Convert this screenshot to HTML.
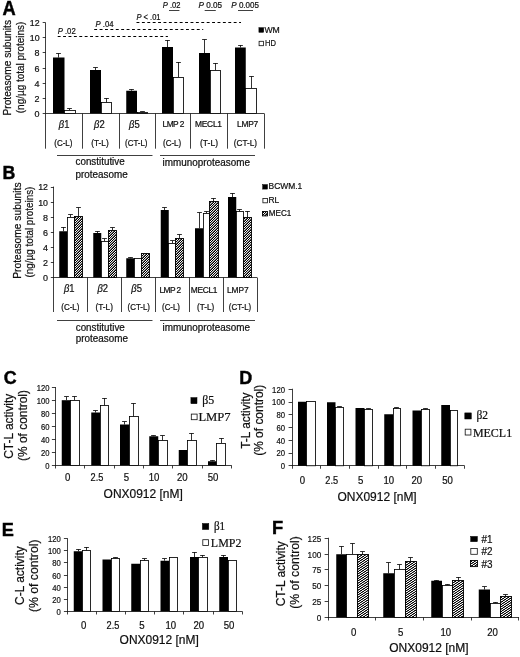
<!DOCTYPE html>
<html><head><meta charset="utf-8"><title>Figure</title>
<style>
html,body{margin:0;padding:0;background:#fff;}
body{width:520px;height:657px;overflow:hidden;font-family:"Liberation Sans",sans-serif;}
svg{display:block;}
text{stroke:#111;stroke-width:0.22px;}
</style></head>
<body>
<svg width="520" height="657" viewBox="0 0 520 657">
<defs>
<pattern id="hatchB" width="5" height="5" patternUnits="userSpaceOnUse"><rect x="0" y="0" width="1.02" height="1.02" fill="rgb(0,0,0)"/><rect x="1" y="0" width="1.02" height="1.02" fill="rgb(255,255,255)"/><rect x="2" y="0" width="1.02" height="1.02" fill="rgb(0,0,0)"/><rect x="3" y="0" width="1.02" height="1.02" fill="rgb(215,215,215)"/><rect x="4" y="0" width="1.02" height="1.02" fill="rgb(96,96,96)"/><rect x="0" y="1" width="1.02" height="1.02" fill="rgb(255,255,255)"/><rect x="1" y="1" width="1.02" height="1.02" fill="rgb(0,0,0)"/><rect x="2" y="1" width="1.02" height="1.02" fill="rgb(215,215,215)"/><rect x="3" y="1" width="1.02" height="1.02" fill="rgb(96,96,96)"/><rect x="4" y="1" width="1.02" height="1.02" fill="rgb(0,0,0)"/><rect x="0" y="2" width="1.02" height="1.02" fill="rgb(0,0,0)"/><rect x="1" y="2" width="1.02" height="1.02" fill="rgb(215,215,215)"/><rect x="2" y="2" width="1.02" height="1.02" fill="rgb(96,96,96)"/><rect x="3" y="2" width="1.02" height="1.02" fill="rgb(0,0,0)"/><rect x="4" y="2" width="1.02" height="1.02" fill="rgb(255,255,255)"/><rect x="0" y="3" width="1.02" height="1.02" fill="rgb(215,215,215)"/><rect x="1" y="3" width="1.02" height="1.02" fill="rgb(96,96,96)"/><rect x="2" y="3" width="1.02" height="1.02" fill="rgb(0,0,0)"/><rect x="3" y="3" width="1.02" height="1.02" fill="rgb(255,255,255)"/><rect x="4" y="3" width="1.02" height="1.02" fill="rgb(0,0,0)"/><rect x="0" y="4" width="1.02" height="1.02" fill="rgb(96,96,96)"/><rect x="1" y="4" width="1.02" height="1.02" fill="rgb(0,0,0)"/><rect x="2" y="4" width="1.02" height="1.02" fill="rgb(255,255,255)"/><rect x="3" y="4" width="1.02" height="1.02" fill="rgb(0,0,0)"/><rect x="4" y="4" width="1.02" height="1.02" fill="rgb(215,215,215)"/></pattern><pattern id="hatchF" width="7" height="7" patternUnits="userSpaceOnUse"><rect x="0" y="0" width="1.02" height="1.02" fill="rgb(0,0,0)"/><rect x="1" y="0" width="1.02" height="1.02" fill="rgb(255,255,255)"/><rect x="2" y="0" width="1.02" height="1.02" fill="rgb(211,211,211)"/><rect x="3" y="0" width="1.02" height="1.02" fill="rgb(0,0,0)"/><rect x="4" y="0" width="1.02" height="1.02" fill="rgb(105,105,105)"/><rect x="5" y="0" width="1.02" height="1.02" fill="rgb(255,255,255)"/><rect x="6" y="0" width="1.02" height="1.02" fill="rgb(44,44,44)"/><rect x="0" y="1" width="1.02" height="1.02" fill="rgb(255,255,255)"/><rect x="1" y="1" width="1.02" height="1.02" fill="rgb(44,44,44)"/><rect x="2" y="1" width="1.02" height="1.02" fill="rgb(0,0,0)"/><rect x="3" y="1" width="1.02" height="1.02" fill="rgb(255,255,255)"/><rect x="4" y="1" width="1.02" height="1.02" fill="rgb(211,211,211)"/><rect x="5" y="1" width="1.02" height="1.02" fill="rgb(0,0,0)"/><rect x="6" y="1" width="1.02" height="1.02" fill="rgb(105,105,105)"/><rect x="0" y="2" width="1.02" height="1.02" fill="rgb(0,0,0)"/><rect x="1" y="2" width="1.02" height="1.02" fill="rgb(105,105,105)"/><rect x="2" y="2" width="1.02" height="1.02" fill="rgb(255,255,255)"/><rect x="3" y="2" width="1.02" height="1.02" fill="rgb(44,44,44)"/><rect x="4" y="2" width="1.02" height="1.02" fill="rgb(0,0,0)"/><rect x="5" y="2" width="1.02" height="1.02" fill="rgb(255,255,255)"/><rect x="6" y="2" width="1.02" height="1.02" fill="rgb(211,211,211)"/><rect x="0" y="3" width="1.02" height="1.02" fill="rgb(255,255,255)"/><rect x="1" y="3" width="1.02" height="1.02" fill="rgb(211,211,211)"/><rect x="2" y="3" width="1.02" height="1.02" fill="rgb(0,0,0)"/><rect x="3" y="3" width="1.02" height="1.02" fill="rgb(105,105,105)"/><rect x="4" y="3" width="1.02" height="1.02" fill="rgb(255,255,255)"/><rect x="5" y="3" width="1.02" height="1.02" fill="rgb(44,44,44)"/><rect x="6" y="3" width="1.02" height="1.02" fill="rgb(0,0,0)"/><rect x="0" y="4" width="1.02" height="1.02" fill="rgb(44,44,44)"/><rect x="1" y="4" width="1.02" height="1.02" fill="rgb(0,0,0)"/><rect x="2" y="4" width="1.02" height="1.02" fill="rgb(255,255,255)"/><rect x="3" y="4" width="1.02" height="1.02" fill="rgb(211,211,211)"/><rect x="4" y="4" width="1.02" height="1.02" fill="rgb(0,0,0)"/><rect x="5" y="4" width="1.02" height="1.02" fill="rgb(105,105,105)"/><rect x="6" y="4" width="1.02" height="1.02" fill="rgb(255,255,255)"/><rect x="0" y="5" width="1.02" height="1.02" fill="rgb(105,105,105)"/><rect x="1" y="5" width="1.02" height="1.02" fill="rgb(255,255,255)"/><rect x="2" y="5" width="1.02" height="1.02" fill="rgb(44,44,44)"/><rect x="3" y="5" width="1.02" height="1.02" fill="rgb(0,0,0)"/><rect x="4" y="5" width="1.02" height="1.02" fill="rgb(255,255,255)"/><rect x="5" y="5" width="1.02" height="1.02" fill="rgb(211,211,211)"/><rect x="6" y="5" width="1.02" height="1.02" fill="rgb(0,0,0)"/><rect x="0" y="6" width="1.02" height="1.02" fill="rgb(211,211,211)"/><rect x="1" y="6" width="1.02" height="1.02" fill="rgb(0,0,0)"/><rect x="2" y="6" width="1.02" height="1.02" fill="rgb(105,105,105)"/><rect x="3" y="6" width="1.02" height="1.02" fill="rgb(255,255,255)"/><rect x="4" y="6" width="1.02" height="1.02" fill="rgb(44,44,44)"/><rect x="5" y="6" width="1.02" height="1.02" fill="rgb(0,0,0)"/><rect x="6" y="6" width="1.02" height="1.02" fill="rgb(255,255,255)"/></pattern>
<filter id="soft" x="0" y="0" width="520" height="657" filterUnits="userSpaceOnUse"><feGaussianBlur stdDeviation="0.3"/></filter>
</defs>
<rect width="520" height="657" fill="#fff"/>
<g filter="url(#soft)">
<line x1="45.50" y1="22.60" x2="45.50" y2="148.70" stroke="#111" stroke-width="0.8" />
<line x1="42.70" y1="113.50" x2="45.60" y2="113.50" stroke="#111" stroke-width="0.8" />
<text x="34.60" y="116.90" font-family="Liberation Sans" font-size="9.2" text-anchor="start" font-weight="normal" font-style="normal" fill="#111" textLength="5.00" lengthAdjust="spacingAndGlyphs">0</text>
<line x1="42.70" y1="98.50" x2="45.60" y2="98.50" stroke="#111" stroke-width="0.8" />
<text x="34.60" y="101.77" font-family="Liberation Sans" font-size="9.2" text-anchor="start" font-weight="normal" font-style="normal" fill="#111" textLength="5.00" lengthAdjust="spacingAndGlyphs">2</text>
<line x1="42.70" y1="83.50" x2="45.60" y2="83.50" stroke="#111" stroke-width="0.8" />
<text x="34.60" y="86.64" font-family="Liberation Sans" font-size="9.2" text-anchor="start" font-weight="normal" font-style="normal" fill="#111" textLength="5.00" lengthAdjust="spacingAndGlyphs">4</text>
<line x1="42.70" y1="68.50" x2="45.60" y2="68.50" stroke="#111" stroke-width="0.8" />
<text x="34.60" y="71.51" font-family="Liberation Sans" font-size="9.2" text-anchor="start" font-weight="normal" font-style="normal" fill="#111" textLength="5.00" lengthAdjust="spacingAndGlyphs">6</text>
<line x1="42.70" y1="52.50" x2="45.60" y2="52.50" stroke="#111" stroke-width="0.8" />
<text x="34.60" y="56.38" font-family="Liberation Sans" font-size="9.2" text-anchor="start" font-weight="normal" font-style="normal" fill="#111" textLength="5.00" lengthAdjust="spacingAndGlyphs">8</text>
<line x1="42.70" y1="37.50" x2="45.60" y2="37.50" stroke="#111" stroke-width="0.8" />
<text x="29.80" y="41.25" font-family="Liberation Sans" font-size="9.2" text-anchor="start" font-weight="normal" font-style="normal" fill="#111" textLength="9.80" lengthAdjust="spacingAndGlyphs">10</text>
<line x1="42.70" y1="22.50" x2="45.60" y2="22.50" stroke="#111" stroke-width="0.8" />
<text x="29.80" y="26.12" font-family="Liberation Sans" font-size="9.2" text-anchor="start" font-weight="normal" font-style="normal" fill="#111" textLength="9.80" lengthAdjust="spacingAndGlyphs">12</text>
<line x1="45.60" y1="113.50" x2="264.30" y2="113.50" stroke="#111" stroke-width="0.8" />
<line x1="82.50" y1="113.50" x2="82.50" y2="148.70" stroke="#111" stroke-width="0.8" />
<line x1="119.50" y1="113.50" x2="119.50" y2="148.70" stroke="#111" stroke-width="0.8" />
<line x1="155.50" y1="113.50" x2="155.50" y2="148.70" stroke="#111" stroke-width="0.8" />
<line x1="190.50" y1="113.50" x2="190.50" y2="148.70" stroke="#111" stroke-width="0.8" />
<line x1="227.50" y1="113.50" x2="227.50" y2="148.70" stroke="#111" stroke-width="0.8" />
<line x1="264.50" y1="113.50" x2="264.50" y2="148.70" stroke="#111" stroke-width="0.8" />
<line x1="58.50" y1="57.50" x2="58.50" y2="53.25" stroke="#111" stroke-width="0.85" />
<line x1="56.10" y1="53.50" x2="60.90" y2="53.50" stroke="#111" stroke-width="0.85" />
<rect x="53.00" y="57.50" width="11.50" height="56.00" fill="#000"/>
<line x1="69.50" y1="110.00" x2="69.50" y2="108.75" stroke="#111" stroke-width="0.85" />
<line x1="67.10" y1="108.50" x2="71.90" y2="108.50" stroke="#111" stroke-width="0.85" />
<rect x="64.50" y="110.50" width="11.00" height="3.00" fill="#fff" stroke="#000" stroke-width="0.85"/>
<line x1="95.50" y1="70.00" x2="95.50" y2="67.50" stroke="#111" stroke-width="0.85" />
<line x1="93.10" y1="67.50" x2="97.90" y2="67.50" stroke="#111" stroke-width="0.85" />
<rect x="90.00" y="70.00" width="11.00" height="43.50" fill="#000"/>
<line x1="106.50" y1="102.50" x2="106.50" y2="98.25" stroke="#111" stroke-width="0.85" />
<line x1="104.10" y1="98.50" x2="108.90" y2="98.50" stroke="#111" stroke-width="0.85" />
<rect x="101.50" y="102.50" width="10.00" height="11.00" fill="#fff" stroke="#000" stroke-width="0.85"/>
<line x1="131.50" y1="90.75" x2="131.50" y2="89.25" stroke="#111" stroke-width="0.85" />
<line x1="129.10" y1="89.50" x2="133.90" y2="89.50" stroke="#111" stroke-width="0.85" />
<rect x="126.25" y="90.75" width="10.75" height="22.75" fill="#000"/>
<line x1="142.50" y1="112.40" x2="142.50" y2="111.80" stroke="#111" stroke-width="0.85" />
<line x1="140.10" y1="111.50" x2="144.90" y2="111.50" stroke="#111" stroke-width="0.85" />
<rect x="137.50" y="112.50" width="10.00" height="1.00" fill="#fff" stroke="#000" stroke-width="0.85"/>
<line x1="167.50" y1="47.00" x2="167.50" y2="40.00" stroke="#111" stroke-width="0.85" />
<line x1="165.10" y1="40.50" x2="169.90" y2="40.50" stroke="#111" stroke-width="0.85" />
<rect x="162.00" y="47.00" width="11.00" height="66.50" fill="#000"/>
<line x1="178.50" y1="77.00" x2="178.50" y2="62.00" stroke="#111" stroke-width="0.85" />
<line x1="176.10" y1="62.50" x2="180.90" y2="62.50" stroke="#111" stroke-width="0.85" />
<rect x="173.50" y="77.50" width="10.00" height="36.00" fill="#fff" stroke="#000" stroke-width="0.85"/>
<line x1="204.50" y1="53.00" x2="204.50" y2="39.50" stroke="#111" stroke-width="0.85" />
<line x1="202.10" y1="39.50" x2="206.90" y2="39.50" stroke="#111" stroke-width="0.85" />
<rect x="199.00" y="53.00" width="11.00" height="60.50" fill="#000"/>
<line x1="215.50" y1="70.50" x2="215.50" y2="63.00" stroke="#111" stroke-width="0.85" />
<line x1="213.10" y1="63.50" x2="217.90" y2="63.50" stroke="#111" stroke-width="0.85" />
<rect x="210.50" y="70.50" width="10.00" height="43.00" fill="#fff" stroke="#000" stroke-width="0.85"/>
<line x1="240.50" y1="47.50" x2="240.50" y2="45.00" stroke="#111" stroke-width="0.85" />
<line x1="238.10" y1="45.50" x2="242.90" y2="45.50" stroke="#111" stroke-width="0.85" />
<rect x="235.00" y="47.50" width="10.75" height="66.00" fill="#000"/>
<line x1="251.50" y1="88.00" x2="251.50" y2="76.25" stroke="#111" stroke-width="0.85" />
<line x1="249.10" y1="76.50" x2="253.90" y2="76.50" stroke="#111" stroke-width="0.85" />
<rect x="245.50" y="88.50" width="11.00" height="25.00" fill="#fff" stroke="#000" stroke-width="0.85"/>
<text x="58.80" y="127.80" font-family="Liberation Sans" font-size="10.5" fill="#111" textLength="10.6" lengthAdjust="spacingAndGlyphs"><tspan font-style="italic">&#946;</tspan>1</text>
<text x="94.10" y="127.80" font-family="Liberation Sans" font-size="10.5" fill="#111" textLength="10.6" lengthAdjust="spacingAndGlyphs"><tspan font-style="italic">&#946;</tspan>2</text>
<text x="129.10" y="127.80" font-family="Liberation Sans" font-size="10.5" fill="#111" textLength="10.6" lengthAdjust="spacingAndGlyphs"><tspan font-style="italic">&#946;</tspan>5</text>
<text x="162.50" y="127.20" font-family="Liberation Sans" font-size="8.4" fill="#111" textLength="22.00" lengthAdjust="spacing">LMP 2</text>
<text x="195.00" y="127.20" font-family="Liberation Sans" font-size="8.4" fill="#111" textLength="27.00" lengthAdjust="spacing">MECL1</text>
<text x="237.00" y="127.20" font-family="Liberation Sans" font-size="8.4" fill="#111" textLength="21.25" lengthAdjust="spacing">LMP7</text>
<text x="54.25" y="146.40" font-family="Liberation Sans" font-size="8.4" text-anchor="start" font-weight="normal" font-style="normal" fill="#111" textLength="18.25" lengthAdjust="spacingAndGlyphs">(C-L)</text>
<text x="91.25" y="146.40" font-family="Liberation Sans" font-size="8.4" text-anchor="start" font-weight="normal" font-style="normal" fill="#111" textLength="17.50" lengthAdjust="spacingAndGlyphs">(T-L)</text>
<text x="125.00" y="146.40" font-family="Liberation Sans" font-size="8.4" text-anchor="start" font-weight="normal" font-style="normal" fill="#111" textLength="22.50" lengthAdjust="spacingAndGlyphs">(CT-L)</text>
<text x="163.00" y="146.40" font-family="Liberation Sans" font-size="8.4" text-anchor="start" font-weight="normal" font-style="normal" fill="#111" textLength="18.25" lengthAdjust="spacingAndGlyphs">(C-L)</text>
<text x="200.00" y="146.40" font-family="Liberation Sans" font-size="8.4" text-anchor="start" font-weight="normal" font-style="normal" fill="#111" textLength="18.00" lengthAdjust="spacingAndGlyphs">(T-L)</text>
<text x="233.75" y="146.40" font-family="Liberation Sans" font-size="8.4" text-anchor="start" font-weight="normal" font-style="normal" fill="#111" textLength="23.25" lengthAdjust="spacingAndGlyphs">(CT-L)</text>
<line x1="57.00" y1="155.50" x2="152.50" y2="155.50" stroke="#111" stroke-width="0.8" />
<line x1="160.00" y1="155.50" x2="255.00" y2="155.50" stroke="#111" stroke-width="0.8" />
<text x="75.50" y="165.30" font-family="Liberation Sans" font-size="10" text-anchor="start" font-weight="normal" font-style="normal" fill="#111" textLength="49.20" lengthAdjust="spacingAndGlyphs">constitutive</text>
<text x="75.50" y="177.60" font-family="Liberation Sans" font-size="10" text-anchor="start" font-weight="normal" font-style="normal" fill="#111" textLength="52.30" lengthAdjust="spacingAndGlyphs">proteasome</text>
<text x="162.50" y="165.50" font-family="Liberation Sans" font-size="10" text-anchor="start" font-weight="normal" font-style="normal" fill="#111" textLength="87.50" lengthAdjust="spacingAndGlyphs">immunoproteasome</text>
<line x1="136.50" y1="22.50" x2="241.00" y2="22.50" stroke="#000" stroke-width="1.1" stroke-dasharray="2.9 2.5"/>
<line x1="94.20" y1="29.50" x2="203.20" y2="29.50" stroke="#000" stroke-width="1.1" stroke-dasharray="2.9 2.5"/>
<line x1="57.70" y1="36.50" x2="167.90" y2="36.50" stroke="#000" stroke-width="1.1" stroke-dasharray="2.9 2.5"/>
<text x="136.50" y="19.70" font-family="Liberation Sans" font-size="9" fill="#111" textLength="24.00" lengthAdjust="spacingAndGlyphs"><tspan font-style="italic">P</tspan> &lt; .01</text>
<text x="95.50" y="27.20" font-family="Liberation Sans" font-size="9" fill="#111" textLength="18.00" lengthAdjust="spacingAndGlyphs"><tspan font-style="italic">P</tspan> .04</text>
<text x="57.70" y="34.40" font-family="Liberation Sans" font-size="9" fill="#111" textLength="18.00" lengthAdjust="spacingAndGlyphs"><tspan font-style="italic">P</tspan> .02</text>
<text x="162.80" y="8.20" font-family="Liberation Sans" font-size="9" fill="#111" textLength="17.70" lengthAdjust="spacingAndGlyphs"><tspan font-style="italic">P</tspan> .02</text>
<line x1="169.00" y1="10.50" x2="179.40" y2="10.50" stroke="#111" stroke-width="0.8" />
<text x="198.50" y="8.20" font-family="Liberation Sans" font-size="9" fill="#111" textLength="23.50" lengthAdjust="spacingAndGlyphs"><tspan font-style="italic">P</tspan> 0.05</text>
<line x1="204.70" y1="10.50" x2="215.80" y2="10.50" stroke="#111" stroke-width="0.8" />
<text x="231.30" y="8.20" font-family="Liberation Sans" font-size="9" fill="#111" textLength="27.70" lengthAdjust="spacingAndGlyphs"><tspan font-style="italic">P</tspan> 0.005</text>
<line x1="238.00" y1="10.50" x2="253.00" y2="10.50" stroke="#111" stroke-width="0.8" />
<rect x="258.90" y="27.70" width="4.80" height="4.60" fill="#000" stroke="#000" stroke-width="0.5"/>
<text x="264.40" y="32.60" font-family="Liberation Sans" font-size="9" text-anchor="start" font-weight="normal" font-style="normal" fill="#111" textLength="15.40" lengthAdjust="spacingAndGlyphs">WM</text>
<rect x="259.10" y="41.30" width="4.30" height="4.40" fill="#fff" stroke="#111" stroke-width="0.8"/>
<text x="265.00" y="46.00" font-family="Liberation Sans" font-size="9" text-anchor="start" font-weight="normal" font-style="normal" fill="#111" textLength="11.00" lengthAdjust="spacingAndGlyphs">HD</text>
<text x="11.00" y="115.50" font-family="Liberation Sans" font-size="10.6" text-anchor="start" font-weight="normal" font-style="normal" fill="#111" textLength="95.50" lengthAdjust="spacingAndGlyphs" transform="rotate(-90 11.00 115.50)">Proteasome subunits</text>
<text x="23.60" y="113.20" font-family="Liberation Sans" font-size="10.6" text-anchor="start" font-weight="normal" font-style="normal" fill="#111" textLength="91.50" lengthAdjust="spacingAndGlyphs" transform="rotate(-90 23.60 113.20)">(ng/&#181;g total proteins)</text>
<text x="2.50" y="14.50" font-family="Liberation Sans" font-size="19.5" font-weight="bold" fill="#000" style="stroke:#000;stroke-width:0.45px" textLength="13.20" lengthAdjust="spacingAndGlyphs">A</text>
<line x1="53.50" y1="186.60" x2="53.50" y2="312.00" stroke="#111" stroke-width="0.8" />
<line x1="50.85" y1="277.50" x2="53.75" y2="277.50" stroke="#111" stroke-width="0.8" />
<text x="42.95" y="280.90" font-family="Liberation Sans" font-size="9.2" text-anchor="start" font-weight="normal" font-style="normal" fill="#111" textLength="5.00" lengthAdjust="spacingAndGlyphs">0</text>
<line x1="50.85" y1="262.50" x2="53.75" y2="262.50" stroke="#111" stroke-width="0.8" />
<text x="42.95" y="265.82" font-family="Liberation Sans" font-size="9.2" text-anchor="start" font-weight="normal" font-style="normal" fill="#111" textLength="5.00" lengthAdjust="spacingAndGlyphs">2</text>
<line x1="50.85" y1="247.50" x2="53.75" y2="247.50" stroke="#111" stroke-width="0.8" />
<text x="42.95" y="250.74" font-family="Liberation Sans" font-size="9.2" text-anchor="start" font-weight="normal" font-style="normal" fill="#111" textLength="5.00" lengthAdjust="spacingAndGlyphs">4</text>
<line x1="50.85" y1="232.50" x2="53.75" y2="232.50" stroke="#111" stroke-width="0.8" />
<text x="42.95" y="235.66" font-family="Liberation Sans" font-size="9.2" text-anchor="start" font-weight="normal" font-style="normal" fill="#111" textLength="5.00" lengthAdjust="spacingAndGlyphs">6</text>
<line x1="50.85" y1="217.50" x2="53.75" y2="217.50" stroke="#111" stroke-width="0.8" />
<text x="42.95" y="220.58" font-family="Liberation Sans" font-size="9.2" text-anchor="start" font-weight="normal" font-style="normal" fill="#111" textLength="5.00" lengthAdjust="spacingAndGlyphs">8</text>
<line x1="50.85" y1="202.50" x2="53.75" y2="202.50" stroke="#111" stroke-width="0.8" />
<text x="38.15" y="205.50" font-family="Liberation Sans" font-size="9.2" text-anchor="start" font-weight="normal" font-style="normal" fill="#111" textLength="9.80" lengthAdjust="spacingAndGlyphs">10</text>
<line x1="50.85" y1="187.50" x2="53.75" y2="187.50" stroke="#111" stroke-width="0.8" />
<text x="38.15" y="190.42" font-family="Liberation Sans" font-size="9.2" text-anchor="start" font-weight="normal" font-style="normal" fill="#111" textLength="9.80" lengthAdjust="spacingAndGlyphs">12</text>
<line x1="53.75" y1="277.50" x2="257.00" y2="277.50" stroke="#111" stroke-width="0.8" />
<line x1="87.50" y1="277.50" x2="87.50" y2="312.00" stroke="#111" stroke-width="0.8" />
<line x1="121.50" y1="277.50" x2="121.50" y2="312.00" stroke="#111" stroke-width="0.8" />
<line x1="155.50" y1="277.50" x2="155.50" y2="312.00" stroke="#111" stroke-width="0.8" />
<line x1="189.50" y1="277.50" x2="189.50" y2="312.00" stroke="#111" stroke-width="0.8" />
<line x1="223.50" y1="277.50" x2="223.50" y2="312.00" stroke="#111" stroke-width="0.8" />
<line x1="257.50" y1="277.50" x2="257.50" y2="312.00" stroke="#111" stroke-width="0.8" />
<line x1="63.50" y1="231.25" x2="63.50" y2="227.00" stroke="#111" stroke-width="0.85" />
<line x1="61.10" y1="227.50" x2="65.90" y2="227.50" stroke="#111" stroke-width="0.85" />
<rect x="59.25" y="231.25" width="7.75" height="46.25" fill="#000"/>
<line x1="70.50" y1="217.00" x2="70.50" y2="214.50" stroke="#111" stroke-width="0.85" />
<line x1="68.10" y1="214.50" x2="72.90" y2="214.50" stroke="#111" stroke-width="0.85" />
<rect x="67.50" y="217.50" width="7.00" height="60.00" fill="#fff" stroke="#000" stroke-width="0.85"/>
<line x1="78.50" y1="216.00" x2="78.50" y2="207.50" stroke="#111" stroke-width="0.85" />
<line x1="76.10" y1="207.50" x2="80.90" y2="207.50" stroke="#111" stroke-width="0.85" />
<line x1="97.50" y1="233.00" x2="97.50" y2="231.25" stroke="#111" stroke-width="0.85" />
<line x1="95.10" y1="231.50" x2="99.90" y2="231.50" stroke="#111" stroke-width="0.85" />
<rect x="93.25" y="233.00" width="8.00" height="44.50" fill="#000"/>
<line x1="104.50" y1="241.00" x2="104.50" y2="238.75" stroke="#111" stroke-width="0.85" />
<line x1="102.10" y1="238.50" x2="106.90" y2="238.50" stroke="#111" stroke-width="0.85" />
<rect x="101.50" y="241.50" width="7.00" height="36.00" fill="#fff" stroke="#000" stroke-width="0.85"/>
<line x1="112.50" y1="230.00" x2="112.50" y2="227.50" stroke="#111" stroke-width="0.85" />
<line x1="110.10" y1="227.50" x2="114.90" y2="227.50" stroke="#111" stroke-width="0.85" />
<line x1="130.50" y1="258.25" x2="130.50" y2="257.60" stroke="#111" stroke-width="0.85" />
<line x1="128.10" y1="257.50" x2="132.90" y2="257.50" stroke="#111" stroke-width="0.85" />
<rect x="126.25" y="258.25" width="8.00" height="19.25" fill="#000"/>
<rect x="134.50" y="258.50" width="7.00" height="19.00" fill="#fff" stroke="#000" stroke-width="0.85"/>
<line x1="164.50" y1="210.00" x2="164.50" y2="207.50" stroke="#111" stroke-width="0.85" />
<line x1="162.10" y1="207.50" x2="166.90" y2="207.50" stroke="#111" stroke-width="0.85" />
<rect x="160.75" y="210.00" width="8.00" height="67.50" fill="#000"/>
<line x1="172.50" y1="243.00" x2="172.50" y2="240.75" stroke="#111" stroke-width="0.85" />
<line x1="170.10" y1="240.50" x2="174.90" y2="240.50" stroke="#111" stroke-width="0.85" />
<rect x="168.50" y="243.50" width="7.00" height="34.00" fill="#fff" stroke="#000" stroke-width="0.85"/>
<line x1="179.50" y1="238.00" x2="179.50" y2="234.50" stroke="#111" stroke-width="0.85" />
<line x1="177.10" y1="234.50" x2="181.90" y2="234.50" stroke="#111" stroke-width="0.85" />
<line x1="199.50" y1="228.25" x2="199.50" y2="212.50" stroke="#111" stroke-width="0.85" />
<line x1="197.10" y1="212.50" x2="201.90" y2="212.50" stroke="#111" stroke-width="0.85" />
<rect x="195.00" y="228.25" width="8.00" height="49.25" fill="#000"/>
<line x1="206.50" y1="213.00" x2="206.50" y2="211.50" stroke="#111" stroke-width="0.85" />
<line x1="204.10" y1="211.50" x2="208.90" y2="211.50" stroke="#111" stroke-width="0.85" />
<rect x="203.50" y="213.50" width="6.00" height="64.00" fill="#fff" stroke="#000" stroke-width="0.85"/>
<line x1="213.50" y1="201.25" x2="213.50" y2="198.00" stroke="#111" stroke-width="0.85" />
<line x1="211.10" y1="198.50" x2="215.90" y2="198.50" stroke="#111" stroke-width="0.85" />
<line x1="232.50" y1="197.00" x2="232.50" y2="193.00" stroke="#111" stroke-width="0.85" />
<line x1="230.10" y1="193.50" x2="234.90" y2="193.50" stroke="#111" stroke-width="0.85" />
<rect x="228.00" y="197.00" width="8.25" height="80.50" fill="#000"/>
<line x1="239.50" y1="211.75" x2="239.50" y2="209.50" stroke="#111" stroke-width="0.85" />
<line x1="237.10" y1="209.50" x2="241.90" y2="209.50" stroke="#111" stroke-width="0.85" />
<rect x="236.50" y="211.50" width="7.00" height="66.00" fill="#fff" stroke="#000" stroke-width="0.85"/>
<line x1="247.50" y1="217.00" x2="247.50" y2="211.00" stroke="#111" stroke-width="0.85" />
<line x1="245.10" y1="211.50" x2="249.90" y2="211.50" stroke="#111" stroke-width="0.85" />
<text x="63.90" y="292.00" font-family="Liberation Sans" font-size="10.5" fill="#111" textLength="10.6" lengthAdjust="spacingAndGlyphs"><tspan font-style="italic">&#946;</tspan>1</text>
<text x="97.50" y="292.00" font-family="Liberation Sans" font-size="10.5" fill="#111" textLength="10.6" lengthAdjust="spacingAndGlyphs"><tspan font-style="italic">&#946;</tspan>2</text>
<text x="131.30" y="292.00" font-family="Liberation Sans" font-size="10.5" fill="#111" textLength="10.6" lengthAdjust="spacingAndGlyphs"><tspan font-style="italic">&#946;</tspan>5</text>
<text x="159.50" y="292.90" font-family="Liberation Sans" font-size="8.4" fill="#111" textLength="21.75" lengthAdjust="spacing">LMP 2</text>
<text x="190.75" y="292.90" font-family="Liberation Sans" font-size="8.4" fill="#111" textLength="26.75" lengthAdjust="spacing">MECL1</text>
<text x="227.00" y="292.90" font-family="Liberation Sans" font-size="8.4" fill="#111" textLength="21.75" lengthAdjust="spacing">LMP7</text>
<text x="61.25" y="310.30" font-family="Liberation Sans" font-size="8.4" text-anchor="start" font-weight="normal" font-style="normal" fill="#111" textLength="18.25" lengthAdjust="spacingAndGlyphs">(C-L)</text>
<text x="95.50" y="310.30" font-family="Liberation Sans" font-size="8.4" text-anchor="start" font-weight="normal" font-style="normal" fill="#111" textLength="17.50" lengthAdjust="spacingAndGlyphs">(T-L)</text>
<text x="127.50" y="310.30" font-family="Liberation Sans" font-size="8.4" text-anchor="start" font-weight="normal" font-style="normal" fill="#111" textLength="22.50" lengthAdjust="spacingAndGlyphs">(CT-L)</text>
<text x="162.00" y="310.30" font-family="Liberation Sans" font-size="8.4" text-anchor="start" font-weight="normal" font-style="normal" fill="#111" textLength="18.00" lengthAdjust="spacingAndGlyphs">(C-L)</text>
<text x="197.00" y="310.30" font-family="Liberation Sans" font-size="8.4" text-anchor="start" font-weight="normal" font-style="normal" fill="#111" textLength="17.25" lengthAdjust="spacingAndGlyphs">(T-L)</text>
<text x="228.75" y="310.30" font-family="Liberation Sans" font-size="8.4" text-anchor="start" font-weight="normal" font-style="normal" fill="#111" textLength="22.50" lengthAdjust="spacingAndGlyphs">(CT-L)</text>
<line x1="57.00" y1="320.50" x2="152.50" y2="320.50" stroke="#111" stroke-width="0.8" />
<line x1="160.00" y1="320.50" x2="255.00" y2="320.50" stroke="#111" stroke-width="0.8" />
<text x="75.75" y="330.50" font-family="Liberation Sans" font-size="10" text-anchor="start" font-weight="normal" font-style="normal" fill="#111" textLength="49.00" lengthAdjust="spacingAndGlyphs">constitutive</text>
<text x="75.75" y="342.20" font-family="Liberation Sans" font-size="10" text-anchor="start" font-weight="normal" font-style="normal" fill="#111" textLength="52.20" lengthAdjust="spacingAndGlyphs">proteasome</text>
<text x="162.50" y="330.70" font-family="Liberation Sans" font-size="10" text-anchor="start" font-weight="normal" font-style="normal" fill="#111" textLength="87.50" lengthAdjust="spacingAndGlyphs">immunoproteasome</text>
<rect x="262.70" y="184.60" width="4.80" height="4.50" fill="#000" stroke="#000" stroke-width="0.5"/>
<text x="268.50" y="189.40" font-family="Liberation Sans" font-size="9" text-anchor="start" font-weight="normal" font-style="normal" fill="#111" textLength="33.80" lengthAdjust="spacingAndGlyphs">BCWM.1</text>
<rect x="262.90" y="198.50" width="4.50" height="4.30" fill="#fff" stroke="#111" stroke-width="0.8"/>
<text x="268.50" y="203.00" font-family="Liberation Sans" font-size="9" text-anchor="start" font-weight="normal" font-style="normal" fill="#111" textLength="10.80" lengthAdjust="spacingAndGlyphs">RL</text>
<text x="268.80" y="216.20" font-family="Liberation Sans" font-size="9" text-anchor="start" font-weight="normal" font-style="normal" fill="#111" textLength="22.60" lengthAdjust="spacingAndGlyphs">MEC1</text>
<text x="20.70" y="278.75" font-family="Liberation Sans" font-size="10.8" text-anchor="start" font-weight="normal" font-style="normal" fill="#111" textLength="96.30" lengthAdjust="spacingAndGlyphs" transform="rotate(-90 20.70 278.75)">Proteasome subunits</text>
<text x="33.30" y="277.60" font-family="Liberation Sans" font-size="10.6" text-anchor="start" font-weight="normal" font-style="normal" fill="#111" textLength="91.00" lengthAdjust="spacingAndGlyphs" transform="rotate(-90 33.30 277.60)">(ng/&#181;g total proteins)</text>
<text x="2.40" y="179.20" font-family="Liberation Sans" font-size="19" font-weight="bold" fill="#000" style="stroke:#000;stroke-width:0.45px" textLength="12.80" lengthAdjust="spacingAndGlyphs">B</text>
<line x1="55.50" y1="387.00" x2="55.50" y2="468.50" stroke="#111" stroke-width="0.8" />
<line x1="51.90" y1="465.50" x2="55.50" y2="465.50" stroke="#111" stroke-width="0.8" />
<text x="45.25" y="468.90" font-family="Liberation Sans" font-size="9.8" text-anchor="start" font-weight="normal" font-style="normal" fill="#111" textLength="4.25" lengthAdjust="spacingAndGlyphs">0</text>
<line x1="51.90" y1="452.50" x2="55.50" y2="452.50" stroke="#111" stroke-width="0.8" />
<text x="41.00" y="455.90" font-family="Liberation Sans" font-size="9.8" text-anchor="start" font-weight="normal" font-style="normal" fill="#111" textLength="8.50" lengthAdjust="spacingAndGlyphs">20</text>
<line x1="51.90" y1="439.50" x2="55.50" y2="439.50" stroke="#111" stroke-width="0.8" />
<text x="41.00" y="442.90" font-family="Liberation Sans" font-size="9.8" text-anchor="start" font-weight="normal" font-style="normal" fill="#111" textLength="8.50" lengthAdjust="spacingAndGlyphs">40</text>
<line x1="51.90" y1="426.50" x2="55.50" y2="426.50" stroke="#111" stroke-width="0.8" />
<text x="41.00" y="429.90" font-family="Liberation Sans" font-size="9.8" text-anchor="start" font-weight="normal" font-style="normal" fill="#111" textLength="8.50" lengthAdjust="spacingAndGlyphs">60</text>
<line x1="51.90" y1="413.50" x2="55.50" y2="413.50" stroke="#111" stroke-width="0.8" />
<text x="41.00" y="416.90" font-family="Liberation Sans" font-size="9.8" text-anchor="start" font-weight="normal" font-style="normal" fill="#111" textLength="8.50" lengthAdjust="spacingAndGlyphs">80</text>
<line x1="51.90" y1="400.50" x2="55.50" y2="400.50" stroke="#111" stroke-width="0.8" />
<text x="36.75" y="403.90" font-family="Liberation Sans" font-size="9.8" text-anchor="start" font-weight="normal" font-style="normal" fill="#111" textLength="12.75" lengthAdjust="spacingAndGlyphs">100</text>
<line x1="51.90" y1="387.50" x2="55.50" y2="387.50" stroke="#111" stroke-width="0.8" />
<text x="36.75" y="390.90" font-family="Liberation Sans" font-size="9.8" text-anchor="start" font-weight="normal" font-style="normal" fill="#111" textLength="12.75" lengthAdjust="spacingAndGlyphs">120</text>
<line x1="55.10" y1="465.50" x2="231.70" y2="465.50" stroke="#111" stroke-width="0.8" />
<line x1="84.50" y1="465.50" x2="84.50" y2="468.50" stroke="#111" stroke-width="0.8" />
<line x1="114.50" y1="465.50" x2="114.50" y2="468.50" stroke="#111" stroke-width="0.8" />
<line x1="143.50" y1="465.50" x2="143.50" y2="468.50" stroke="#111" stroke-width="0.8" />
<line x1="172.50" y1="465.50" x2="172.50" y2="468.50" stroke="#111" stroke-width="0.8" />
<line x1="202.50" y1="465.50" x2="202.50" y2="468.50" stroke="#111" stroke-width="0.8" />
<line x1="231.50" y1="465.50" x2="231.50" y2="468.50" stroke="#111" stroke-width="0.8" />
<line x1="66.50" y1="400.20" x2="66.50" y2="396.80" stroke="#111" stroke-width="0.85" />
<line x1="64.10" y1="396.50" x2="68.90" y2="396.50" stroke="#111" stroke-width="0.85" />
<rect x="61.75" y="400.20" width="8.75" height="65.30" fill="#000"/>
<line x1="74.50" y1="400.20" x2="74.50" y2="396.30" stroke="#111" stroke-width="0.85" />
<line x1="72.10" y1="396.50" x2="76.90" y2="396.50" stroke="#111" stroke-width="0.85" />
<rect x="70.50" y="400.50" width="9.00" height="65.00" fill="#fff" stroke="#000" stroke-width="0.85"/>
<line x1="95.50" y1="412.50" x2="95.50" y2="410.50" stroke="#111" stroke-width="0.85" />
<line x1="93.10" y1="410.50" x2="97.90" y2="410.50" stroke="#111" stroke-width="0.85" />
<rect x="91.25" y="412.50" width="8.75" height="53.00" fill="#000"/>
<line x1="104.50" y1="405.50" x2="104.50" y2="398.00" stroke="#111" stroke-width="0.85" />
<line x1="102.10" y1="398.50" x2="106.90" y2="398.50" stroke="#111" stroke-width="0.85" />
<rect x="100.50" y="405.50" width="8.00" height="60.00" fill="#fff" stroke="#000" stroke-width="0.85"/>
<line x1="124.50" y1="424.50" x2="124.50" y2="421.75" stroke="#111" stroke-width="0.85" />
<line x1="122.10" y1="421.50" x2="126.90" y2="421.50" stroke="#111" stroke-width="0.85" />
<rect x="120.00" y="424.50" width="9.25" height="41.00" fill="#000"/>
<line x1="133.50" y1="416.75" x2="133.50" y2="403.25" stroke="#111" stroke-width="0.85" />
<line x1="131.10" y1="403.50" x2="135.90" y2="403.50" stroke="#111" stroke-width="0.85" />
<rect x="129.50" y="416.50" width="9.00" height="49.00" fill="#fff" stroke="#000" stroke-width="0.85"/>
<line x1="153.50" y1="436.25" x2="153.50" y2="435.60" stroke="#111" stroke-width="0.85" />
<line x1="151.10" y1="435.50" x2="155.90" y2="435.50" stroke="#111" stroke-width="0.85" />
<rect x="149.25" y="436.25" width="9.00" height="29.25" fill="#000"/>
<line x1="162.50" y1="440.75" x2="162.50" y2="435.50" stroke="#111" stroke-width="0.85" />
<line x1="160.10" y1="435.50" x2="164.90" y2="435.50" stroke="#111" stroke-width="0.85" />
<rect x="158.50" y="440.50" width="9.00" height="25.00" fill="#fff" stroke="#000" stroke-width="0.85"/>
<rect x="178.75" y="450.00" width="8.75" height="15.50" fill="#000"/>
<line x1="191.50" y1="440.75" x2="191.50" y2="433.25" stroke="#111" stroke-width="0.85" />
<line x1="189.10" y1="433.50" x2="193.90" y2="433.50" stroke="#111" stroke-width="0.85" />
<rect x="187.50" y="440.50" width="9.00" height="25.00" fill="#fff" stroke="#000" stroke-width="0.85"/>
<line x1="212.50" y1="461.25" x2="212.50" y2="460.30" stroke="#111" stroke-width="0.85" />
<line x1="210.10" y1="460.50" x2="214.90" y2="460.50" stroke="#111" stroke-width="0.85" />
<rect x="208.00" y="461.25" width="8.75" height="4.25" fill="#000"/>
<line x1="221.50" y1="443.00" x2="221.50" y2="438.25" stroke="#111" stroke-width="0.85" />
<line x1="219.10" y1="438.50" x2="223.90" y2="438.50" stroke="#111" stroke-width="0.85" />
<rect x="216.50" y="443.50" width="9.00" height="22.00" fill="#fff" stroke="#000" stroke-width="0.85"/>
<text x="65.03" y="481.20" font-family="Liberation Sans" font-size="10.4" text-anchor="start" font-weight="normal" font-style="normal" fill="#111" textLength="5.35" lengthAdjust="spacingAndGlyphs">0</text>
<text x="90.60" y="481.20" font-family="Liberation Sans" font-size="10.4" text-anchor="start" font-weight="normal" font-style="normal" fill="#111" textLength="12.80" lengthAdjust="spacingAndGlyphs">2.5</text>
<text x="123.83" y="481.20" font-family="Liberation Sans" font-size="10.4" text-anchor="start" font-weight="normal" font-style="normal" fill="#111" textLength="5.35" lengthAdjust="spacingAndGlyphs">5</text>
<text x="148.65" y="481.20" font-family="Liberation Sans" font-size="10.4" text-anchor="start" font-weight="normal" font-style="normal" fill="#111" textLength="10.70" lengthAdjust="spacingAndGlyphs">10</text>
<text x="176.95" y="481.20" font-family="Liberation Sans" font-size="10.4" text-anchor="start" font-weight="normal" font-style="normal" fill="#111" textLength="10.70" lengthAdjust="spacingAndGlyphs">20</text>
<text x="207.65" y="481.20" font-family="Liberation Sans" font-size="10.4" text-anchor="start" font-weight="normal" font-style="normal" fill="#111" textLength="10.70" lengthAdjust="spacingAndGlyphs">50</text>
<text x="103.60" y="498.20" font-family="Liberation Sans" font-size="12.2" text-anchor="start" font-weight="normal" font-style="normal" fill="#111" textLength="79.20" lengthAdjust="spacingAndGlyphs">ONX0912 [nM]</text>
<rect x="190.90" y="397.60" width="6.10" height="6.10" fill="#000" stroke="#000" stroke-width="0.5"/>
<text x="202.2" y="404.3" font-family="Liberation Serif" font-size="11.6" fill="#111" textLength="12" lengthAdjust="spacingAndGlyphs">&#946;5</text>
<rect x="191.30" y="414.10" width="5.80" height="5.60" fill="#fff" stroke="#111" stroke-width="0.8"/>
<text x="198.40" y="421.40" font-family="Liberation Serif" font-size="13.5" text-anchor="start" font-weight="normal" font-style="normal" fill="#111" textLength="32.30" lengthAdjust="spacingAndGlyphs">LMP7</text>
<text x="12.70" y="458.75" font-family="Liberation Sans" font-size="12.4" text-anchor="start" font-weight="normal" font-style="normal" fill="#111" textLength="65.00" lengthAdjust="spacingAndGlyphs" transform="rotate(-90 12.70 458.75)">CT-L activity</text>
<text x="26.90" y="461.00" font-family="Liberation Sans" font-size="12.4" text-anchor="start" font-weight="normal" font-style="normal" fill="#111" textLength="71.00" lengthAdjust="spacingAndGlyphs" transform="rotate(-90 26.90 461.00)">(% of control)</text>
<text x="3.70" y="383.60" font-family="Liberation Sans" font-size="19" font-weight="bold" fill="#000" style="stroke:#000;stroke-width:0.45px" textLength="12.90" lengthAdjust="spacingAndGlyphs">C</text>
<line x1="292.50" y1="388.75" x2="292.50" y2="468.75" stroke="#111" stroke-width="0.8" />
<line x1="288.60" y1="465.50" x2="292.20" y2="465.50" stroke="#111" stroke-width="0.8" />
<text x="280.70" y="469.15" font-family="Liberation Sans" font-size="9.8" text-anchor="start" font-weight="normal" font-style="normal" fill="#111" textLength="4.30" lengthAdjust="spacingAndGlyphs">0</text>
<line x1="288.60" y1="453.50" x2="292.20" y2="453.50" stroke="#111" stroke-width="0.8" />
<text x="276.40" y="456.40" font-family="Liberation Sans" font-size="9.8" text-anchor="start" font-weight="normal" font-style="normal" fill="#111" textLength="8.60" lengthAdjust="spacingAndGlyphs">20</text>
<line x1="288.60" y1="440.50" x2="292.20" y2="440.50" stroke="#111" stroke-width="0.8" />
<text x="276.40" y="443.65" font-family="Liberation Sans" font-size="9.8" text-anchor="start" font-weight="normal" font-style="normal" fill="#111" textLength="8.60" lengthAdjust="spacingAndGlyphs">40</text>
<line x1="288.60" y1="427.50" x2="292.20" y2="427.50" stroke="#111" stroke-width="0.8" />
<text x="276.40" y="430.90" font-family="Liberation Sans" font-size="9.8" text-anchor="start" font-weight="normal" font-style="normal" fill="#111" textLength="8.60" lengthAdjust="spacingAndGlyphs">60</text>
<line x1="288.60" y1="414.50" x2="292.20" y2="414.50" stroke="#111" stroke-width="0.8" />
<text x="276.40" y="418.15" font-family="Liberation Sans" font-size="9.8" text-anchor="start" font-weight="normal" font-style="normal" fill="#111" textLength="8.60" lengthAdjust="spacingAndGlyphs">80</text>
<line x1="288.60" y1="402.50" x2="292.20" y2="402.50" stroke="#111" stroke-width="0.8" />
<text x="272.10" y="405.40" font-family="Liberation Sans" font-size="9.8" text-anchor="start" font-weight="normal" font-style="normal" fill="#111" textLength="12.90" lengthAdjust="spacingAndGlyphs">100</text>
<line x1="288.60" y1="389.50" x2="292.20" y2="389.50" stroke="#111" stroke-width="0.8" />
<text x="272.10" y="392.65" font-family="Liberation Sans" font-size="9.8" text-anchor="start" font-weight="normal" font-style="normal" fill="#111" textLength="12.90" lengthAdjust="spacingAndGlyphs">120</text>
<line x1="291.80" y1="465.50" x2="464.65" y2="465.50" stroke="#111" stroke-width="0.8" />
<line x1="320.50" y1="465.75" x2="320.50" y2="468.75" stroke="#111" stroke-width="0.8" />
<line x1="349.50" y1="465.75" x2="349.50" y2="468.75" stroke="#111" stroke-width="0.8" />
<line x1="378.50" y1="465.75" x2="378.50" y2="468.75" stroke="#111" stroke-width="0.8" />
<line x1="406.50" y1="465.75" x2="406.50" y2="468.75" stroke="#111" stroke-width="0.8" />
<line x1="435.50" y1="465.75" x2="435.50" y2="468.75" stroke="#111" stroke-width="0.8" />
<line x1="464.50" y1="465.75" x2="464.50" y2="468.75" stroke="#111" stroke-width="0.8" />
<rect x="298.00" y="401.75" width="8.75" height="64.00" fill="#000"/>
<rect x="306.50" y="401.50" width="9.00" height="64.25" fill="#fff" stroke="#000" stroke-width="0.85"/>
<rect x="327.00" y="402.25" width="8.50" height="63.50" fill="#000"/>
<line x1="339.50" y1="407.50" x2="339.50" y2="406.90" stroke="#111" stroke-width="0.85" />
<line x1="337.10" y1="406.50" x2="341.90" y2="406.50" stroke="#111" stroke-width="0.85" />
<rect x="335.50" y="407.50" width="8.00" height="58.25" fill="#fff" stroke="#000" stroke-width="0.85"/>
<rect x="355.50" y="408.00" width="9.00" height="57.75" fill="#000"/>
<line x1="368.50" y1="409.50" x2="368.50" y2="408.70" stroke="#111" stroke-width="0.85" />
<line x1="366.10" y1="408.50" x2="370.90" y2="408.50" stroke="#111" stroke-width="0.85" />
<rect x="364.50" y="409.50" width="8.00" height="56.25" fill="#fff" stroke="#000" stroke-width="0.85"/>
<rect x="384.25" y="414.25" width="8.75" height="51.50" fill="#000"/>
<line x1="396.50" y1="408.75" x2="396.50" y2="407.80" stroke="#111" stroke-width="0.85" />
<line x1="394.10" y1="407.50" x2="398.90" y2="407.50" stroke="#111" stroke-width="0.85" />
<rect x="393.50" y="408.50" width="7.00" height="57.25" fill="#fff" stroke="#000" stroke-width="0.85"/>
<rect x="412.50" y="410.50" width="8.75" height="55.25" fill="#000"/>
<line x1="425.50" y1="409.50" x2="425.50" y2="408.60" stroke="#111" stroke-width="0.85" />
<line x1="423.10" y1="408.50" x2="427.90" y2="408.50" stroke="#111" stroke-width="0.85" />
<rect x="421.50" y="409.50" width="8.00" height="56.25" fill="#fff" stroke="#000" stroke-width="0.85"/>
<rect x="441.25" y="405.00" width="8.75" height="60.75" fill="#000"/>
<rect x="450.50" y="410.50" width="7.00" height="55.25" fill="#fff" stroke="#000" stroke-width="0.85"/>
<text x="299.82" y="484.10" font-family="Liberation Sans" font-size="10.4" text-anchor="start" font-weight="normal" font-style="normal" fill="#111" textLength="5.35" lengthAdjust="spacingAndGlyphs">0</text>
<text x="325.35" y="484.10" font-family="Liberation Sans" font-size="10.4" text-anchor="start" font-weight="normal" font-style="normal" fill="#111" textLength="12.80" lengthAdjust="spacingAndGlyphs">2.5</text>
<text x="358.07" y="484.10" font-family="Liberation Sans" font-size="10.4" text-anchor="start" font-weight="normal" font-style="normal" fill="#111" textLength="5.35" lengthAdjust="spacingAndGlyphs">5</text>
<text x="383.40" y="484.10" font-family="Liberation Sans" font-size="10.4" text-anchor="start" font-weight="normal" font-style="normal" fill="#111" textLength="10.70" lengthAdjust="spacingAndGlyphs">10</text>
<text x="411.40" y="484.10" font-family="Liberation Sans" font-size="10.4" text-anchor="start" font-weight="normal" font-style="normal" fill="#111" textLength="10.70" lengthAdjust="spacingAndGlyphs">20</text>
<text x="442.15" y="484.10" font-family="Liberation Sans" font-size="10.4" text-anchor="start" font-weight="normal" font-style="normal" fill="#111" textLength="10.70" lengthAdjust="spacingAndGlyphs">50</text>
<text x="337.50" y="500.70" font-family="Liberation Sans" font-size="12.2" text-anchor="start" font-weight="normal" font-style="normal" fill="#111" textLength="79.20" lengthAdjust="spacingAndGlyphs">ONX0912 [nM]</text>
<rect x="464.80" y="412.90" width="6.50" height="6.10" fill="#000" stroke="#000" stroke-width="0.5"/>
<text x="476.4" y="419.4" font-family="Liberation Serif" font-size="11.6" fill="#111" textLength="11.6" lengthAdjust="spacingAndGlyphs">&#946;2</text>
<rect x="465.20" y="429.20" width="5.70" height="5.80" fill="#fff" stroke="#111" stroke-width="0.8"/>
<text x="472.90" y="436.50" font-family="Liberation Serif" font-size="13.5" text-anchor="start" font-weight="normal" font-style="normal" fill="#111" textLength="39.30" lengthAdjust="spacingAndGlyphs">MECL1</text>
<text x="249.80" y="448.75" font-family="Liberation Sans" font-size="12.4" text-anchor="start" font-weight="normal" font-style="normal" fill="#111" textLength="56.30" lengthAdjust="spacingAndGlyphs" transform="rotate(-90 249.80 448.75)">T-L activity</text>
<text x="262.80" y="455.80" font-family="Liberation Sans" font-size="12.4" text-anchor="start" font-weight="normal" font-style="normal" fill="#111" textLength="71.00" lengthAdjust="spacingAndGlyphs" transform="rotate(-90 262.80 455.80)">(% of control)</text>
<text x="239.30" y="384.40" font-family="Liberation Sans" font-size="19" font-weight="bold" fill="#000" style="stroke:#000;stroke-width:0.45px" textLength="13.00" lengthAdjust="spacingAndGlyphs">D</text>
<line x1="67.50" y1="538.25" x2="67.50" y2="614.50" stroke="#111" stroke-width="0.8" />
<line x1="63.90" y1="611.50" x2="67.50" y2="611.50" stroke="#111" stroke-width="0.8" />
<text x="56.60" y="614.90" font-family="Liberation Sans" font-size="9.8" text-anchor="start" font-weight="normal" font-style="normal" fill="#111" textLength="4.30" lengthAdjust="spacingAndGlyphs">0</text>
<line x1="63.90" y1="599.50" x2="67.50" y2="599.50" stroke="#111" stroke-width="0.8" />
<text x="52.30" y="602.77" font-family="Liberation Sans" font-size="9.8" text-anchor="start" font-weight="normal" font-style="normal" fill="#111" textLength="8.60" lengthAdjust="spacingAndGlyphs">20</text>
<line x1="63.90" y1="587.50" x2="67.50" y2="587.50" stroke="#111" stroke-width="0.8" />
<text x="52.30" y="590.64" font-family="Liberation Sans" font-size="9.8" text-anchor="start" font-weight="normal" font-style="normal" fill="#111" textLength="8.60" lengthAdjust="spacingAndGlyphs">40</text>
<line x1="63.90" y1="575.50" x2="67.50" y2="575.50" stroke="#111" stroke-width="0.8" />
<text x="52.30" y="578.51" font-family="Liberation Sans" font-size="9.8" text-anchor="start" font-weight="normal" font-style="normal" fill="#111" textLength="8.60" lengthAdjust="spacingAndGlyphs">60</text>
<line x1="63.90" y1="562.50" x2="67.50" y2="562.50" stroke="#111" stroke-width="0.8" />
<text x="52.30" y="566.38" font-family="Liberation Sans" font-size="9.8" text-anchor="start" font-weight="normal" font-style="normal" fill="#111" textLength="8.60" lengthAdjust="spacingAndGlyphs">80</text>
<line x1="63.90" y1="550.50" x2="67.50" y2="550.50" stroke="#111" stroke-width="0.8" />
<text x="48.00" y="554.25" font-family="Liberation Sans" font-size="9.8" text-anchor="start" font-weight="normal" font-style="normal" fill="#111" textLength="12.90" lengthAdjust="spacingAndGlyphs">100</text>
<line x1="63.90" y1="538.50" x2="67.50" y2="538.50" stroke="#111" stroke-width="0.8" />
<text x="48.00" y="542.12" font-family="Liberation Sans" font-size="9.8" text-anchor="start" font-weight="normal" font-style="normal" fill="#111" textLength="12.90" lengthAdjust="spacingAndGlyphs">120</text>
<line x1="67.10" y1="611.50" x2="242.50" y2="611.50" stroke="#111" stroke-width="0.8" />
<line x1="96.50" y1="611.50" x2="96.50" y2="614.50" stroke="#111" stroke-width="0.8" />
<line x1="125.50" y1="611.50" x2="125.50" y2="614.50" stroke="#111" stroke-width="0.8" />
<line x1="154.50" y1="611.50" x2="154.50" y2="614.50" stroke="#111" stroke-width="0.8" />
<line x1="183.50" y1="611.50" x2="183.50" y2="614.50" stroke="#111" stroke-width="0.8" />
<line x1="213.50" y1="611.50" x2="213.50" y2="614.50" stroke="#111" stroke-width="0.8" />
<line x1="242.50" y1="611.50" x2="242.50" y2="614.50" stroke="#111" stroke-width="0.8" />
<line x1="78.50" y1="551.25" x2="78.50" y2="549.30" stroke="#111" stroke-width="0.85" />
<line x1="76.10" y1="549.50" x2="80.90" y2="549.50" stroke="#111" stroke-width="0.85" />
<rect x="73.75" y="551.25" width="8.75" height="60.25" fill="#000"/>
<line x1="86.50" y1="550.75" x2="86.50" y2="547.00" stroke="#111" stroke-width="0.85" />
<line x1="84.10" y1="547.50" x2="88.90" y2="547.50" stroke="#111" stroke-width="0.85" />
<rect x="82.50" y="550.50" width="8.00" height="61.00" fill="#fff" stroke="#000" stroke-width="0.85"/>
<rect x="102.50" y="559.50" width="8.75" height="52.00" fill="#000"/>
<line x1="115.50" y1="558.25" x2="115.50" y2="557.50" stroke="#111" stroke-width="0.85" />
<line x1="113.10" y1="557.50" x2="117.90" y2="557.50" stroke="#111" stroke-width="0.85" />
<rect x="111.50" y="558.50" width="8.00" height="53.00" fill="#fff" stroke="#000" stroke-width="0.85"/>
<rect x="131.25" y="563.75" width="9.25" height="47.75" fill="#000"/>
<line x1="144.50" y1="560.75" x2="144.50" y2="558.75" stroke="#111" stroke-width="0.85" />
<line x1="142.10" y1="558.50" x2="146.90" y2="558.50" stroke="#111" stroke-width="0.85" />
<rect x="140.50" y="560.50" width="8.00" height="51.00" fill="#fff" stroke="#000" stroke-width="0.85"/>
<line x1="164.50" y1="560.75" x2="164.50" y2="558.75" stroke="#111" stroke-width="0.85" />
<line x1="162.10" y1="558.50" x2="166.90" y2="558.50" stroke="#111" stroke-width="0.85" />
<rect x="160.50" y="560.75" width="8.75" height="50.75" fill="#000"/>
<rect x="169.50" y="557.50" width="8.00" height="54.00" fill="#fff" stroke="#000" stroke-width="0.85"/>
<line x1="194.50" y1="557.00" x2="194.50" y2="552.00" stroke="#111" stroke-width="0.85" />
<line x1="192.10" y1="552.50" x2="196.90" y2="552.50" stroke="#111" stroke-width="0.85" />
<rect x="190.00" y="557.00" width="8.75" height="54.50" fill="#000"/>
<line x1="202.50" y1="557.50" x2="202.50" y2="555.00" stroke="#111" stroke-width="0.85" />
<line x1="200.10" y1="555.50" x2="204.90" y2="555.50" stroke="#111" stroke-width="0.85" />
<rect x="198.50" y="557.50" width="9.00" height="54.00" fill="#fff" stroke="#000" stroke-width="0.85"/>
<line x1="223.50" y1="557.00" x2="223.50" y2="555.00" stroke="#111" stroke-width="0.85" />
<line x1="221.10" y1="555.50" x2="225.90" y2="555.50" stroke="#111" stroke-width="0.85" />
<rect x="219.25" y="557.00" width="8.75" height="54.50" fill="#000"/>
<rect x="228.50" y="560.50" width="8.00" height="51.00" fill="#fff" stroke="#000" stroke-width="0.85"/>
<text x="81.08" y="628.90" font-family="Liberation Sans" font-size="10.4" text-anchor="start" font-weight="normal" font-style="normal" fill="#111" textLength="5.35" lengthAdjust="spacingAndGlyphs">0</text>
<text x="106.60" y="628.90" font-family="Liberation Sans" font-size="10.4" text-anchor="start" font-weight="normal" font-style="normal" fill="#111" textLength="12.80" lengthAdjust="spacingAndGlyphs">2.5</text>
<text x="139.32" y="628.90" font-family="Liberation Sans" font-size="10.4" text-anchor="start" font-weight="normal" font-style="normal" fill="#111" textLength="5.35" lengthAdjust="spacingAndGlyphs">5</text>
<text x="165.40" y="628.90" font-family="Liberation Sans" font-size="10.4" text-anchor="start" font-weight="normal" font-style="normal" fill="#111" textLength="10.70" lengthAdjust="spacingAndGlyphs">10</text>
<text x="193.40" y="628.90" font-family="Liberation Sans" font-size="10.4" text-anchor="start" font-weight="normal" font-style="normal" fill="#111" textLength="10.70" lengthAdjust="spacingAndGlyphs">20</text>
<text x="223.65" y="628.90" font-family="Liberation Sans" font-size="10.4" text-anchor="start" font-weight="normal" font-style="normal" fill="#111" textLength="10.70" lengthAdjust="spacingAndGlyphs">50</text>
<text x="119.60" y="644.20" font-family="Liberation Sans" font-size="12.2" text-anchor="start" font-weight="normal" font-style="normal" fill="#111" textLength="79.20" lengthAdjust="spacingAndGlyphs">ONX0912 [nM]</text>
<rect x="202.40" y="523.50" width="6.40" height="6.00" fill="#000" stroke="#000" stroke-width="0.5"/>
<text x="213.9" y="529.7" font-family="Liberation Serif" font-size="12" fill="#111" textLength="11.2" lengthAdjust="spacingAndGlyphs">&#946;1</text>
<rect x="202.80" y="539.70" width="5.70" height="5.80" fill="#fff" stroke="#111" stroke-width="0.8"/>
<text x="210.80" y="546.70" font-family="Liberation Serif" font-size="13.4" text-anchor="start" font-weight="normal" font-style="normal" fill="#111" textLength="30.70" lengthAdjust="spacingAndGlyphs">LMP2</text>
<text x="23.80" y="605.00" font-family="Liberation Sans" font-size="12.2" text-anchor="start" font-weight="normal" font-style="normal" fill="#111" textLength="58.75" lengthAdjust="spacingAndGlyphs" transform="rotate(-90 23.80 605.00)">C-L activity</text>
<text x="38.20" y="612.00" font-family="Liberation Sans" font-size="12.2" text-anchor="start" font-weight="normal" font-style="normal" fill="#111" textLength="72.50" lengthAdjust="spacingAndGlyphs" transform="rotate(-90 38.20 612.00)">(% of control)</text>
<text x="1.80" y="536.20" font-family="Liberation Sans" font-size="18.7" font-weight="bold" fill="#000" style="stroke:#000;stroke-width:0.45px" textLength="12.10" lengthAdjust="spacingAndGlyphs">E</text>
<line x1="328.50" y1="537.75" x2="328.50" y2="620.50" stroke="#111" stroke-width="0.8" />
<line x1="324.65" y1="617.50" x2="328.25" y2="617.50" stroke="#111" stroke-width="0.8" />
<text x="316.70" y="620.90" font-family="Liberation Sans" font-size="9.8" text-anchor="start" font-weight="normal" font-style="normal" fill="#111" textLength="4.55" lengthAdjust="spacingAndGlyphs">0</text>
<line x1="324.65" y1="601.50" x2="328.25" y2="601.50" stroke="#111" stroke-width="0.8" />
<text x="312.15" y="605.05" font-family="Liberation Sans" font-size="9.8" text-anchor="start" font-weight="normal" font-style="normal" fill="#111" textLength="9.10" lengthAdjust="spacingAndGlyphs">25</text>
<line x1="324.65" y1="585.50" x2="328.25" y2="585.50" stroke="#111" stroke-width="0.8" />
<text x="312.15" y="589.20" font-family="Liberation Sans" font-size="9.8" text-anchor="start" font-weight="normal" font-style="normal" fill="#111" textLength="9.10" lengthAdjust="spacingAndGlyphs">50</text>
<line x1="324.65" y1="569.50" x2="328.25" y2="569.50" stroke="#111" stroke-width="0.8" />
<text x="312.15" y="573.35" font-family="Liberation Sans" font-size="9.8" text-anchor="start" font-weight="normal" font-style="normal" fill="#111" textLength="9.10" lengthAdjust="spacingAndGlyphs">75</text>
<line x1="324.65" y1="554.50" x2="328.25" y2="554.50" stroke="#111" stroke-width="0.8" />
<text x="307.60" y="557.50" font-family="Liberation Sans" font-size="9.8" text-anchor="start" font-weight="normal" font-style="normal" fill="#111" textLength="13.65" lengthAdjust="spacingAndGlyphs">100</text>
<line x1="324.65" y1="538.50" x2="328.25" y2="538.50" stroke="#111" stroke-width="0.8" />
<text x="307.60" y="541.65" font-family="Liberation Sans" font-size="9.8" text-anchor="start" font-weight="normal" font-style="normal" fill="#111" textLength="13.65" lengthAdjust="spacingAndGlyphs">125</text>
<line x1="327.85" y1="617.50" x2="519.05" y2="617.50" stroke="#111" stroke-width="0.8" />
<line x1="375.50" y1="617.50" x2="375.50" y2="620.50" stroke="#111" stroke-width="0.8" />
<line x1="423.50" y1="617.50" x2="423.50" y2="620.50" stroke="#111" stroke-width="0.8" />
<line x1="471.50" y1="617.50" x2="471.50" y2="620.50" stroke="#111" stroke-width="0.8" />
<line x1="518.50" y1="617.50" x2="518.50" y2="620.50" stroke="#111" stroke-width="0.8" />
<line x1="341.50" y1="554.25" x2="341.50" y2="546.25" stroke="#111" stroke-width="0.85" />
<line x1="339.10" y1="546.50" x2="343.90" y2="546.50" stroke="#111" stroke-width="0.85" />
<rect x="336.25" y="554.25" width="10.50" height="63.25" fill="#000"/>
<line x1="352.50" y1="554.25" x2="352.50" y2="543.25" stroke="#111" stroke-width="0.85" />
<line x1="350.10" y1="543.50" x2="354.90" y2="543.50" stroke="#111" stroke-width="0.85" />
<rect x="346.50" y="554.50" width="11.00" height="63.00" fill="#fff" stroke="#000" stroke-width="0.85"/>
<line x1="362.50" y1="554.25" x2="362.50" y2="551.75" stroke="#111" stroke-width="0.85" />
<line x1="360.10" y1="551.50" x2="364.90" y2="551.50" stroke="#111" stroke-width="0.85" />
<line x1="388.50" y1="573.25" x2="388.50" y2="562.50" stroke="#111" stroke-width="0.85" />
<line x1="386.10" y1="562.50" x2="390.90" y2="562.50" stroke="#111" stroke-width="0.85" />
<rect x="383.25" y="573.25" width="11.00" height="44.25" fill="#000"/>
<line x1="399.50" y1="569.50" x2="399.50" y2="564.50" stroke="#111" stroke-width="0.85" />
<line x1="397.10" y1="564.50" x2="401.90" y2="564.50" stroke="#111" stroke-width="0.85" />
<rect x="394.50" y="569.50" width="11.00" height="48.00" fill="#fff" stroke="#000" stroke-width="0.85"/>
<line x1="410.50" y1="561.25" x2="410.50" y2="557.50" stroke="#111" stroke-width="0.85" />
<line x1="408.10" y1="557.50" x2="412.90" y2="557.50" stroke="#111" stroke-width="0.85" />
<line x1="436.50" y1="580.75" x2="436.50" y2="580.00" stroke="#111" stroke-width="0.85" />
<line x1="434.10" y1="580.50" x2="438.90" y2="580.50" stroke="#111" stroke-width="0.85" />
<rect x="431.25" y="580.75" width="10.75" height="36.75" fill="#000"/>
<line x1="447.50" y1="585.00" x2="447.50" y2="584.20" stroke="#111" stroke-width="0.85" />
<line x1="445.10" y1="584.50" x2="449.90" y2="584.50" stroke="#111" stroke-width="0.85" />
<rect x="442.50" y="585.50" width="10.00" height="32.00" fill="#fff" stroke="#000" stroke-width="0.85"/>
<line x1="458.50" y1="580.00" x2="458.50" y2="577.00" stroke="#111" stroke-width="0.85" />
<line x1="456.10" y1="577.50" x2="460.90" y2="577.50" stroke="#111" stroke-width="0.85" />
<line x1="484.50" y1="589.50" x2="484.50" y2="586.75" stroke="#111" stroke-width="0.85" />
<line x1="482.10" y1="586.50" x2="486.90" y2="586.50" stroke="#111" stroke-width="0.85" />
<rect x="478.75" y="589.50" width="11.25" height="28.00" fill="#000"/>
<line x1="495.50" y1="603.00" x2="495.50" y2="602.20" stroke="#111" stroke-width="0.85" />
<line x1="493.10" y1="602.50" x2="497.90" y2="602.50" stroke="#111" stroke-width="0.85" />
<rect x="490.50" y="603.50" width="10.00" height="14.00" fill="#fff" stroke="#000" stroke-width="0.85"/>
<line x1="505.50" y1="596.75" x2="505.50" y2="594.50" stroke="#111" stroke-width="0.85" />
<line x1="503.10" y1="594.50" x2="507.90" y2="594.50" stroke="#111" stroke-width="0.85" />
<text x="351.07" y="635.50" font-family="Liberation Sans" font-size="10.4" text-anchor="start" font-weight="normal" font-style="normal" fill="#111" textLength="5.35" lengthAdjust="spacingAndGlyphs">0</text>
<text x="397.93" y="635.50" font-family="Liberation Sans" font-size="10.4" text-anchor="start" font-weight="normal" font-style="normal" fill="#111" textLength="5.35" lengthAdjust="spacingAndGlyphs">5</text>
<text x="440.40" y="635.50" font-family="Liberation Sans" font-size="10.4" text-anchor="start" font-weight="normal" font-style="normal" fill="#111" textLength="10.70" lengthAdjust="spacingAndGlyphs">10</text>
<text x="487.15" y="635.50" font-family="Liberation Sans" font-size="10.4" text-anchor="start" font-weight="normal" font-style="normal" fill="#111" textLength="10.70" lengthAdjust="spacingAndGlyphs">20</text>
<text x="389.30" y="651.80" font-family="Liberation Sans" font-size="12.2" text-anchor="start" font-weight="normal" font-style="normal" fill="#111" textLength="79.20" lengthAdjust="spacingAndGlyphs">ONX0912 [nM]</text>
<rect x="470.70" y="536.40" width="6.70" height="5.30" fill="#000" stroke="#000" stroke-width="0.5"/>
<text x="481.60" y="542.60" font-family="Liberation Sans" font-size="10.4" text-anchor="start" font-weight="normal" font-style="normal" fill="#111" textLength="11.00" lengthAdjust="spacingAndGlyphs">#1</text>
<rect x="470.80" y="548.50" width="6.50" height="5.80" fill="#fff" stroke="#111" stroke-width="0.8"/>
<text x="481.60" y="555.10" font-family="Liberation Sans" font-size="10.4" text-anchor="start" font-weight="normal" font-style="normal" fill="#111" textLength="11.00" lengthAdjust="spacingAndGlyphs">#2</text>
<text x="481.60" y="567.60" font-family="Liberation Sans" font-size="10.4" text-anchor="start" font-weight="normal" font-style="normal" fill="#111" textLength="11.00" lengthAdjust="spacingAndGlyphs">#3</text>
<text x="284.80" y="606.25" font-family="Liberation Sans" font-size="12" text-anchor="start" font-weight="normal" font-style="normal" fill="#111" textLength="65.00" lengthAdjust="spacingAndGlyphs" transform="rotate(-90 284.80 606.25)">CT-L activity</text>
<text x="299.00" y="608.75" font-family="Liberation Sans" font-size="12" text-anchor="start" font-weight="normal" font-style="normal" fill="#111" textLength="72.50" lengthAdjust="spacingAndGlyphs" transform="rotate(-90 299.00 608.75)">(% of control)</text>
<text x="272.10" y="534.00" font-family="Liberation Sans" font-size="18.3" font-weight="bold" fill="#000" style="stroke:#000;stroke-width:0.45px">F</text>
</g>
<g>
<rect x="74.50" y="216.50" width="8.00" height="61.00" fill="url(#hatchB)" stroke="#000" stroke-width="0.9"/>
<rect x="108.50" y="230.50" width="8.00" height="47.00" fill="url(#hatchB)" stroke="#000" stroke-width="0.9"/>
<rect x="141.50" y="253.50" width="8.00" height="24.00" fill="url(#hatchB)" stroke="#000" stroke-width="0.9"/>
<rect x="175.50" y="238.50" width="8.00" height="39.00" fill="url(#hatchB)" stroke="#000" stroke-width="0.9"/>
<rect x="209.50" y="201.50" width="9.00" height="76.00" fill="url(#hatchB)" stroke="#000" stroke-width="0.9"/>
<rect x="243.50" y="217.50" width="8.00" height="60.00" fill="url(#hatchB)" stroke="#000" stroke-width="0.9"/>
<rect x="262.50" y="211.50" width="5.00" height="4.40" fill="url(#hatchB)" stroke="#000" stroke-width="0.9"/>
<rect x="357.50" y="554.50" width="11.00" height="63.00" fill="url(#hatchF)" stroke="#000" stroke-width="0.9"/>
<rect x="405.50" y="561.50" width="11.00" height="56.00" fill="url(#hatchF)" stroke="#000" stroke-width="0.9"/>
<rect x="452.50" y="580.50" width="11.00" height="37.00" fill="url(#hatchF)" stroke="#000" stroke-width="0.9"/>
<rect x="500.50" y="596.50" width="11.00" height="21.00" fill="url(#hatchF)" stroke="#000" stroke-width="0.9"/>
<rect x="470.50" y="560.50" width="7.00" height="6.10" fill="url(#hatchF)" stroke="#000" stroke-width="0.9"/>
</g>
</svg>
</body></html>
